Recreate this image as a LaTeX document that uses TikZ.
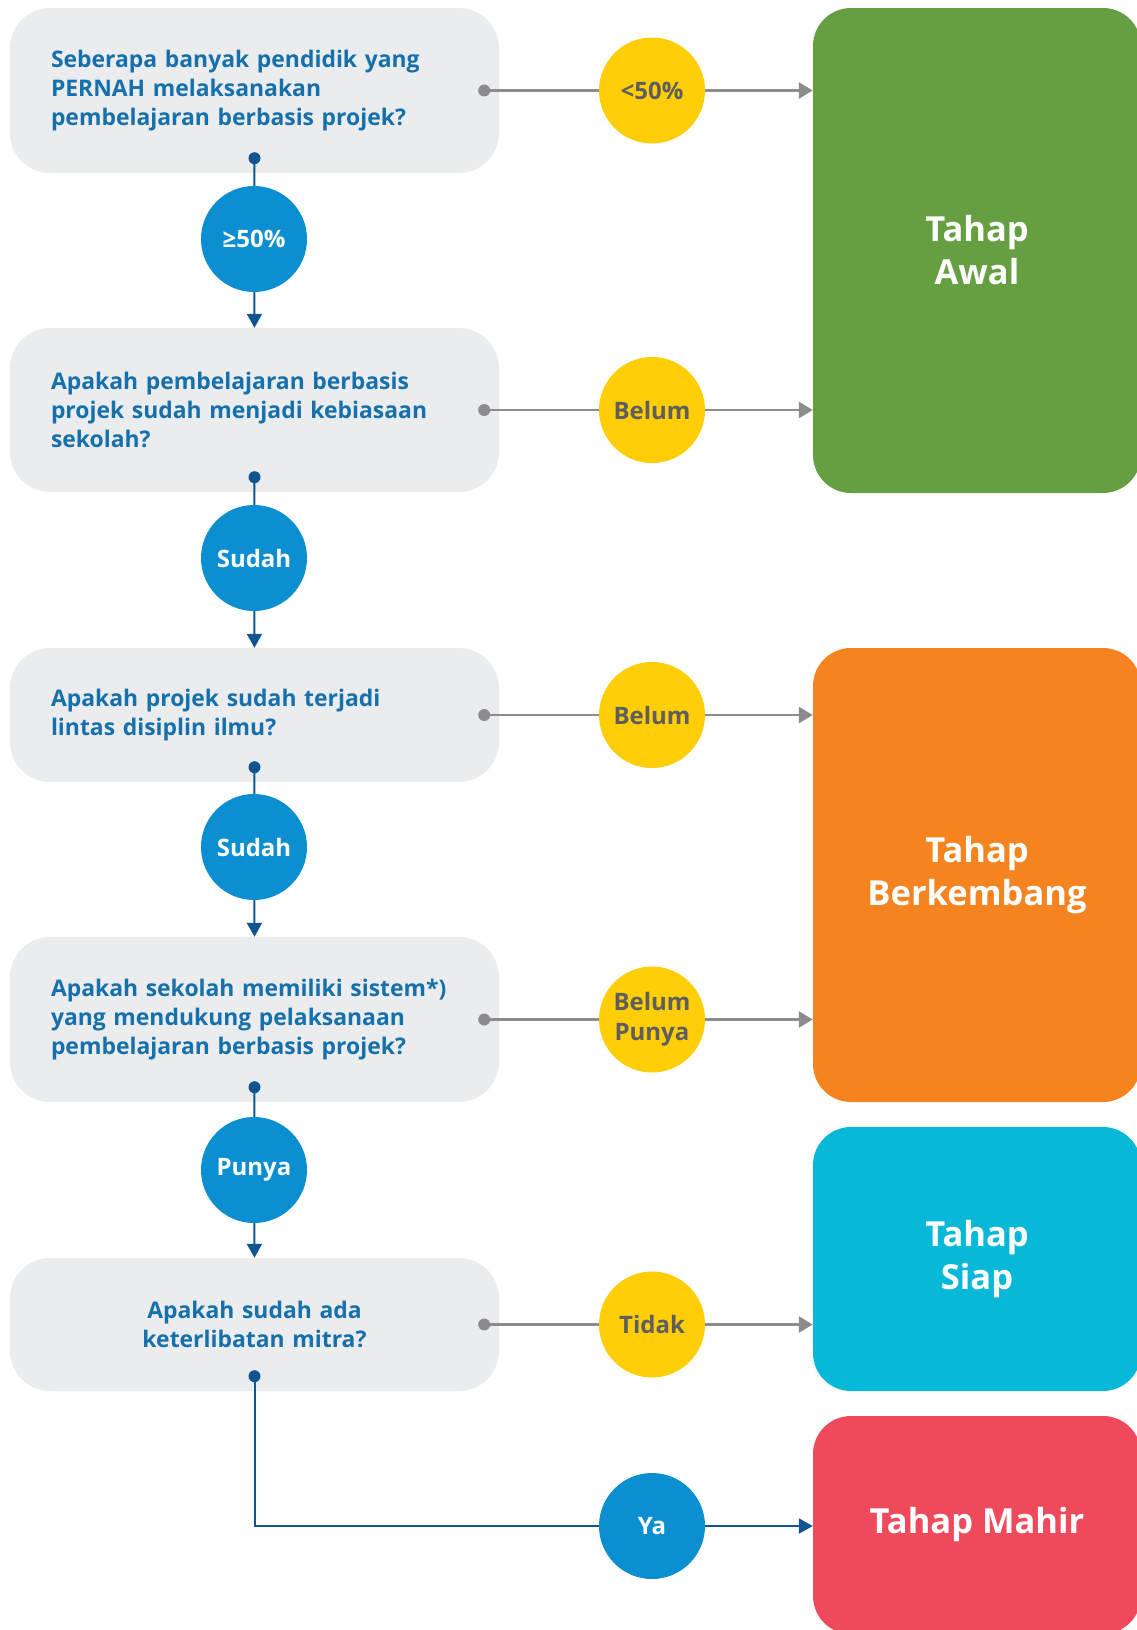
\documentclass[tikz,border=0pt]{standalone}
\usepackage{fontspec}
\setmainfont{Open Sans}
\usetikzlibrary{arrows.meta,calc}

\definecolor{boxgray}{HTML}{EBECEE}
\definecolor{qblue}{HTML}{1670AB}
\definecolor{ballblue}{HTML}{0B8FD0}
\definecolor{lineblue}{HTML}{0E5592}
\definecolor{ballyellow}{HTML}{FFCE06}
\definecolor{txtgray}{HTML}{5E5E5E}
\definecolor{linegray}{HTML}{8C8C8E}
\definecolor{stgreen}{HTML}{669F42}
\definecolor{storange}{HTML}{F58420}
\definecolor{stcyan}{HTML}{08B8D8}
\definecolor{stred}{HTML}{EE4A5B}

\tikzset{
    question/.style={
        fill=boxgray,
        rounded corners=40pt,
        minimum width=489pt,
        inner sep=0pt,
        text width=407pt,
        align=left,
        text=qblue,
        font=\bfseries\fontsize{22.9}{29}\selectfont
    },
    ball/.style={
        circle,
        minimum size=106pt,
        inner sep=0pt,
        align=center,
        font=\bfseries\fontsize{24}{30}\selectfont
    },
    yesball/.style={ball, fill=ballblue, text=white},
    noball/.style={ball, fill=ballyellow, text=txtgray},
    stage/.style={
        rounded corners=38pt,
        minimum width=328pt,
        inner sep=0pt,
        align=center,
        text=white,
        font=\bfseries\fontsize{34.5}{43}\selectfont
    },
    gdot/.style={circle, fill=linegray, minimum size=12pt, inner sep=0pt},
    bdot/.style={circle, fill=lineblue, minimum size=12pt, inner sep=0pt},
    noline/.style={draw=linegray, line width=2.7pt},
    yesline/.style={draw=lineblue, line width=2pt},
    noarrow/.style={-{Triangle[length=14pt,width=16pt]}},
    yesarrow/.style={-{Triangle[length=14pt,width=15pt]}}
}

\begin{document}
\begin{tikzpicture}[x=1pt,y=-1pt]
    \useasboundingbox (0,0) rectangle (1137,1630);

    % pertanyaan
    \node[question, minimum height=165pt] (q1) at (254.5,90.5)
        {Seberapa banyak pendidik yang\\PERNAH melaksanakan\\pembelajaran berbasis projek?};
    \node[question, minimum height=164pt] (q2) at (254.5,410)
        {Apakah pembelajaran berbasis\\projek sudah menjadi kebiasaan\\sekolah?};
    \node[question, minimum height=134pt] (q3) at (254.5,715)
        {Apakah projek sudah terjadi\\lintas disiplin ilmu?};
    \node[question, minimum height=165pt] (q4) at (254.5,1019.5)
        {Apakah sekolah memiliki sistem*)\\yang mendukung pelaksanaan\\pembelajaran berbasis projek?};
    \node[question, minimum height=133pt, align=center] (q5) at (254.5,1324.5)
        {Apakah sudah ada\\keterlibatan mitra?};

    % tahap
    \node[stage, fill=stgreen, minimum height=485pt] (awal) at (977,250.5) {Tahap\\Awal};
    \node[stage, fill=storange, minimum height=454pt] (berkembang) at (977,875) {Tahap\\Berkembang};
    \node[stage, fill=stcyan, minimum height=264pt] (siap) at (977,1259) {Tahap\\Siap};
    \node[stage, fill=stred, minimum height=218pt] (mahir) at (977,1525) {Tahap Mahir};

    % jawaban
    \node[noball] (n1) at (652,90.5) {<50\%};
    \node[noball] (n2) at (652,410) {Belum};
    \node[noball] (n3) at (652,715) {Belum};
    \node[noball] (n4) at (652,1019.5) {Belum\\Punya};
    \node[noball] (n5) at (652,1324.5) {Tidak};

    \node[yesball] (y1) at (254,239) {≥50\%};
    \node[yesball] (y2) at (254,558) {Sudah};
    \node[yesball] (y3) at (254,847) {Sudah};
    \node[yesball] (y4) at (254,1170) {Punya};
    \node[yesball] (ya) at (652,1526) {Ya};

    % titik
    \foreach \q in {1,...,5} {
        \node[gdot] (q\q r) at ($(q\q.east)+(-15,0)$) {};
        \node[bdot] (q\q b) at ($(q\q.south)+(0,-15)$) {};
    }

    % garis ke kanan
    \draw[noline] (q1r.center) -- (n1);
    \draw[noline, noarrow] (n1) -- (n1 -| awal.west);
    \draw[noline] (q2r.center) -- (n2);
    \draw[noline, noarrow] (n2) -- (n2 -| awal.west);
    \draw[noline] (q3r.center) -- (n3);
    \draw[noline, noarrow] (n3) -- (n3 -| berkembang.west);
    \draw[noline] (q4r.center) -- (n4);
    \draw[noline, noarrow] (n4) -- (n4 -| berkembang.west);
    \draw[noline] (q5r.center) -- (n5);
    \draw[noline, noarrow] (n5) -- (n5 -| siap.west);

    % garis ke bawah
    \draw[yesline] (q1b.center) -- (y1);
    \draw[yesline, yesarrow] (y1) -- (q2.north);
    \draw[yesline] (q2b.center) -- (y2);
    \draw[yesline, yesarrow] (y2) -- (q3.north);
    \draw[yesline] (q3b.center) -- (y3);
    \draw[yesline, yesarrow] (y3) -- (q4.north);
    \draw[yesline] (q4b.center) -- (y4);
    \draw[yesline, yesarrow] (y4) -- (q5.north);
    \draw[yesline] (q5b.center) |- (ya.west);
    \draw[yesline, yesarrow] (ya) -- (ya -| mahir.west);
\end{tikzpicture}
\end{document}
